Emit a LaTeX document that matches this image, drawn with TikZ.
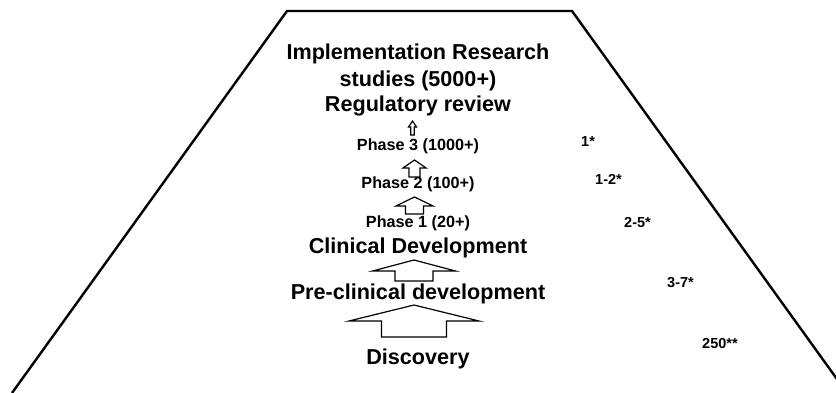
\documentclass[tikz,border=0pt]{standalone}
\usepackage{fontspec}
\setmainfont{Liberation Sans}
% hollow upward block arrow: centre x, tip y, head half-width, shaft half-width, head base y, bottom y
\newcommand{\hollowup}[6]{%
  \draw[blockarrow] (#1,#2) -- (#1+#3,#5) -- (#1+#4,#5) -- (#1+#4,#6)
    -- (#1-#4,#6) -- (#1-#4,#5) -- (#1-#3,#5) -- cycle;}
\begin{document}
\begin{tikzpicture}[x=1pt,y=-1pt,
  big/.style={font=\fontsize{21.6}{26}\selectfont\bfseries, inner sep=0pt, anchor=base},
  phase/.style={font=\fontsize{16.2}{19}\selectfont\bfseries, inner sep=0pt, anchor=base},
  count/.style={font=\fontsize{14.5}{17}\selectfont\bfseries, inner sep=0pt, anchor=base west},
  blockarrow/.style={draw=black, line width=1.2pt, fill=white, line join=miter},
  funnel/.style={line width=2.4pt, line join=miter}]
\useasboundingbox (0,0) rectangle (836,393);
\clip (0,0) rectangle (836,393);

% the funnel outline
\draw[funnel] (12,393) -- (287,11) -- (572,11) -- (847,393);

% stage labels
\node[big] (impl1) at (418,60) {Implementation Research};
\node[big] (impl2) at (418,87) {studies (5000+)};
\node[big] (review) at (418,112) {Regulatory review};
\node[phase] (ph3) at (418,151) {Phase 3 (1000+)};
\node[phase] (ph2) at (418,189) {Phase 2 (100+)};
\node[phase] (ph1) at (418,228) {Phase 1 (20+)};
\node[big] (clin) at (418,254) {Clinical Development};
\node[big] (pre) at (418,299) {Pre-clinical development};
\node[big] (disc) at (418,364) {Discovery};

% arrows between stages
\hollowup{412.5}{121}{4}{1.7}{127}{135}
\hollowup{414.5}{160}{11.5}{5.5}{168}{177}
\hollowup{414.5}{197}{18.5}{9}{206}{214}
\hollowup{414}{260}{41.5}{19}{271}{281}
\hollowup{414}{305}{65}{32.5}{321}{337}

% durations
\node[count] (y3) at (581,147) {1*};
\node[count] (y2) at (595,185) {1-2*};
\node[count] (y1) at (624,227) {2-5*};
\node[count] (ypre) at (667,287) {3-7*};
\node[count] (ndisc) at (702,348) {250**};
\end{tikzpicture}
\end{document}
